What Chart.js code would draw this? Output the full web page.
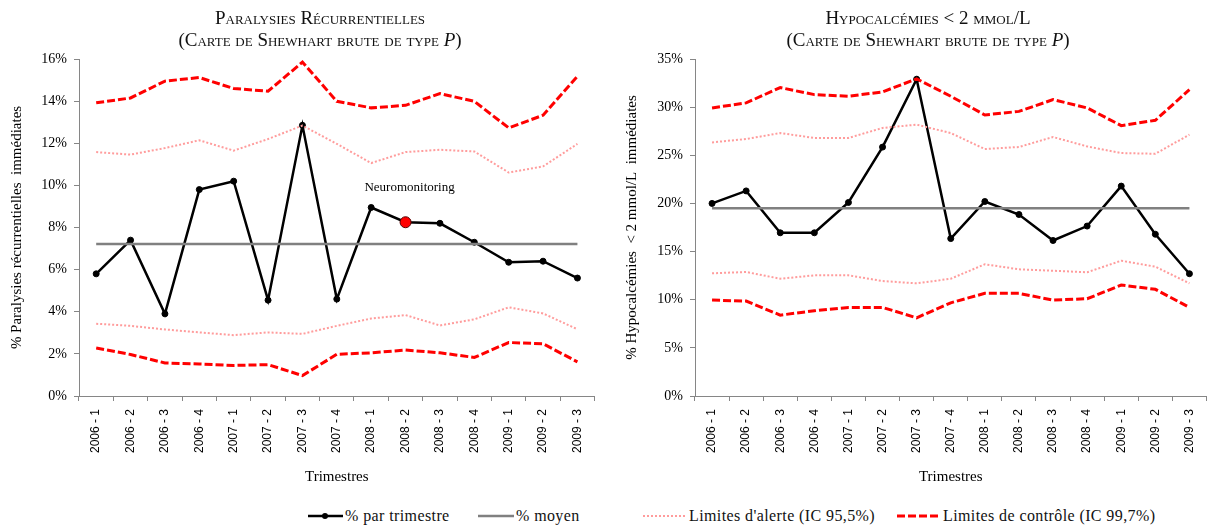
<!DOCTYPE html>
<html lang="fr">
<head>
<meta charset="utf-8">
<script src="https://cdn.jsdelivr.net/npm/chart.js"></script>
<style>
  body { margin: 0; background: #fff; width: 1212px; height: 526px; position: relative; overflow: hidden; font-family: "Liberation Serif", serif; }
  .box { position: absolute; top: 0; height: 500px; }
  .titre { position: absolute; font-variant: small-caps; font-size: 19px; text-align: center; line-height: 22px; top: 7px; width: 440px; color: #111; }
  .legende { position: absolute; top: 507px; font-size: 16px; letter-spacing: 0.4px; color: #111; white-space: nowrap; display: flex; align-items: center; }
  .legende svg { margin-right: 2px; }
</style>
</head>
<body>
  <div class="box" style="left:0;width:600px"><canvas id="chartParalysie"></canvas></div>
  <div class="box" style="left:600px;width:612px"><canvas id="chartHypocal"></canvas></div>

  <div class="titre" style="left:100px">Paralysies Récurrentielles<br>(Carte de Shewhart brute de type <i>P</i>)</div>
  <div class="titre" style="left:708px">Hypocalcémies &lt; 2 mmol/L<br>(Carte de Shewhart brute de type <i>P</i>)</div>

  <div class="legende" style="left:308px">
    <svg width="35" height="10"><line x1="0" y1="5" x2="35" y2="5" stroke="#000" stroke-width="2.5"/><circle cx="17" cy="5" r="3" fill="#000"/></svg>% par trimestre</div>
  <div class="legende" style="left:478px">
    <svg width="36" height="10"><line x1="0" y1="5" x2="36" y2="5" stroke="#808080" stroke-width="2.5"/></svg>% moyen</div>
  <div class="legende" style="left:643px">
    <svg width="44" height="10"><line x1="0" y1="5" x2="44" y2="5" stroke="#ff9c9c" stroke-width="2" stroke-dasharray="2,2"/></svg>Limites d'alerte (IC 95,5%)</div>
  <div class="legende" style="left:897px">
    <svg width="44" height="10"><line x1="0" y1="5" x2="44" y2="5" stroke="#ff0000" stroke-width="3" stroke-dasharray="8,3"/></svg>Limites de contrôle (IC 99,7%)</div>

<script>
const trimestres = ['2006 - 1', '2006 - 2', '2006 - 3', '2006 - 4', '2007 - 1', '2007 - 2', '2007 - 3', '2007 - 4',
  '2008 - 1', '2008 - 2', '2008 - 3', '2008 - 4', '2009 - 1', '2009 - 2', '2009 - 3'];

// paralysies recurrentielles (%)
const paraTaux = [5.8, 7.4, 3.9, 9.8, 10.2, 4.55, 12.85, 4.6, 8.95, 8.25, 8.2, 7.3, 6.35, 6.4, 5.6];
const paraMoyen = [7.22, 7.22, 7.22, 7.22, 7.22, 7.22, 7.22, 7.22, 7.22, 7.22, 7.22, 7.22, 7.22, 7.22, 7.22];
const paraLCS = [13.92, 14.15, 14.95, 15.12, 14.6, 14.47, 15.85, 13.99, 13.68, 13.8, 14.36, 13.99, 12.73, 13.33, 15.18];
const paraLAS = [11.58, 11.46, 11.77, 12.14, 11.65, 12.2, 12.84, 11.97, 11.06, 11.58, 11.69, 11.61, 10.61, 10.9, 11.97];
const paraLAI = [3.43, 3.33, 3.16, 3.02, 2.89, 3.02, 2.95, 3.33, 3.68, 3.84, 3.35, 3.64, 4.21, 3.92, 3.17];
const paraLCI = [2.28, 1.97, 1.57, 1.52, 1.45, 1.49, 0.97, 1.98, 2.05, 2.18, 2.05, 1.83, 2.54, 2.48, 1.62];
const paraTicks = { max: 16, step: 2 };
const neuroIndex = 9;
const neuroTexteY = 9.9;

// hypocalcemies (%)
const hypoTaux = [20.0, 21.3, 16.95, 16.95, 20.1, 25.85, 32.9, 16.35, 20.2, 18.85, 16.15, 17.65, 21.8, 16.8, 12.7];
const hypoMoyen = [19.5, 19.5, 19.5, 19.5, 19.5, 19.5, 19.5, 19.5, 19.5, 19.5, 19.5, 19.5, 19.5, 19.5, 19.5];
const hypoLCS = [29.92, 30.44, 32.03, 31.3, 31.13, 31.58, 32.94, 31.13, 29.19, 29.56, 30.78, 29.92, 28.08, 28.63, 31.82];
const hypoLAS = [26.34, 26.69, 27.31, 26.8, 26.8, 27.84, 28.18, 27.31, 25.65, 25.86, 26.9, 25.92, 25.23, 25.16, 27.14];
const hypoLAI = [12.74, 12.88, 12.18, 12.53, 12.53, 11.94, 11.7, 12.18, 13.68, 13.16, 13.01, 12.85, 14.05, 13.43, 11.7];
const hypoLCI = [9.96, 9.86, 8.4, 8.85, 9.2, 9.2, 8.12, 9.68, 10.66, 10.66, 9.96, 10.1, 11.52, 11.08, 9.2];
const hypoTicks = { max: 35, step: 5 };

const SERIF = '"Liberation Serif", "Times New Roman", serif';
const SANS = '"Liberation Sans", Arial, sans-serif';
const AXE = '#868686';

function lignes(taux, moyen, lcs, las, lai, lci, rouge) {
  const ctrl = { borderColor: '#ff0000', borderWidth: 3, borderDash: [8, 3], pointRadius: 0, fill: false, tension: 0 };
  const alerte = { borderColor: '#ff9c9c', borderWidth: 2, borderDash: [2, 2], pointRadius: 0, fill: false, tension: 0 };
  return [
    Object.assign({ label: 'LCS', data: lcs }, ctrl),
    Object.assign({ label: 'LCI', data: lci }, ctrl),
    Object.assign({ label: 'LAS', data: las }, alerte),
    Object.assign({ label: 'LAI', data: lai }, alerte),
    { label: '% moyen', data: moyen, borderColor: '#808080', borderWidth: 2.5, pointRadius: 0 },
    {
      label: '% par trimestre', data: taux, borderColor: '#000', borderWidth: 2.5,
      pointRadius: ctx => ctx.dataIndex === rouge ? 5.5 : 3,
      pointBackgroundColor: ctx => ctx.dataIndex === rouge ? '#ff0000' : '#000',
      pointBorderColor: ctx => ctx.dataIndex === rouge ? '#550000' : '#000',
      pointBorderWidth: 1
    }
  ];
}

function options(ticksY, titreY, axeLargeur, titrePad) {
  return {
    responsive: false,
    animation: false,
    layout: { padding: { top: 59, bottom: 10, left: 0, right: 1 } },
    plugins: { legend: { display: false }, tooltip: { enabled: false } },
    scales: {
      x: {
        offset: true,
        grid: { offset: true, drawOnChartArea: false, drawTicks: true, tickLength: 5, color: AXE },
        border: { color: AXE, width: 1 },
        ticks: { minRotation: 90, maxRotation: 90, padding: 8, color: '#000', font: { family: SANS, size: 12 } },
        title: { display: true, text: 'Trimestres', color: '#000', padding: { top: 0, bottom: 4 }, font: { family: SERIF, size: 15 } },
        afterFit: s => { s.height = 94; }
      },
      y: {
        min: 0, max: ticksY.max,
        grid: { drawOnChartArea: false, drawTicks: true, tickLength: 5, color: AXE },
        border: { color: AXE, width: 1 },
        ticks: { stepSize: ticksY.step, padding: 7, color: '#000', font: { family: SERIF, size: 14 }, callback: v => v + '%' },
        title: { display: true, text: titreY, color: '#000', padding: { top: titrePad, bottom: 0 }, font: { family: SERIF, size: 15 } },
        afterFit: s => { s.width = axeLargeur; }
      }
    }
  };
}

const annotation = {
  id: 'neuro',
  afterDatasetsDraw(chart) {
    const c = chart.ctx;
    c.save();
    c.font = '13px ' + SERIF;
    c.fillStyle = '#000';
    c.textAlign = 'center';
    c.textBaseline = 'middle';
    c.fillText('Neuromonitoring', chart.scales.x.getPixelForValue(neuroIndex) + 4, chart.scales.y.getPixelForValue(neuroTexteY));
    c.restore();
  }
};

const cPara = document.getElementById('chartParalysie');
cPara.width = 600; cPara.height = 500;
new Chart(cPara, {
  type: 'line',
  data: { labels: trimestres, datasets: lignes(paraTaux, paraMoyen, paraLCS, paraLAS, paraLAI, paraLCI, neuroIndex) },
  options: options(paraTicks, '% Paralysies récurrentielles  immédiates', 79, 8),
  plugins: [annotation]
});

const cHypo = document.getElementById('chartHypocal');
cHypo.width = 612; cHypo.height = 500;
new Chart(cHypo, {
  type: 'line',
  data: { labels: trimestres, datasets: lignes(hypoTaux, hypoMoyen, hypoLCS, hypoLAS, hypoLAI, hypoLCI, -1) },
  options: options(hypoTicks, '% Hypocalcémies  < 2 mmol/L  immédiates', 95, 23)
});
</script>
</body>
</html>
